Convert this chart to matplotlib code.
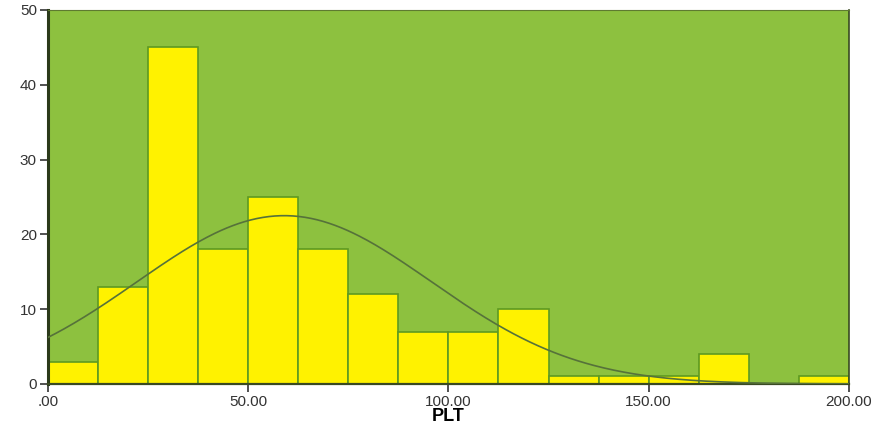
import numpy as np
import matplotlib
matplotlib.use("Agg")
import matplotlib.pyplot as plt

plt.rcParams['font.family'] = ['Liberation Sans', 'DejaVu Sans']

# Histogram of PLT: bin edges and counts
bin_edges = [0, 12.5, 25, 37.5, 50, 62.5, 75, 87.5, 100, 112.5, 125,
             137.5, 150, 162.5, 175, 187.5, 200]
counts = [3, 13, 45, 18, 25, 18, 12, 7, 7, 10, 1, 1, 1, 4, 0, 1]
x_ticks = [0, 50, 100, 150, 200]
x_tick_labels = [".00", "50.00", "100.00", "150.00", "200.00"]
y_ticks = [0, 10, 20, 30, 40, 50]

# Fitted normal curve parameters
mean_plt = 59.0
sd_plt = 36.8

fig = plt.figure(figsize=(8.81, 4.29), dpi=100)
ax = fig.add_axes([0.0545, 0.105, 0.909, 0.872])
ax.set_facecolor("#8dc13f")

edges = np.array(bin_edges)
widths = np.diff(edges)
ax.bar(edges[:-1], counts, width=widths, align="edge",
       color="#fff200", edgecolor="#5e9a22", linewidth=1.2, zorder=2)

n_total = sum(counts)
bw = widths[0]
xs = np.linspace(0, 200, 400)
ys = n_total * bw / (sd_plt * np.sqrt(2 * np.pi)) * np.exp(-0.5 * ((xs - mean_plt) / sd_plt) ** 2)
ax.plot(xs, ys, color="#56723a", linewidth=1.2, zorder=3)

ax.set_xlim(0, 200)
ax.set_ylim(0, 50)
ax.set_xticks(x_ticks)
ax.set_xticklabels(x_tick_labels)
ax.set_yticks(y_ticks)
ax.tick_params(axis="both", direction="out", length=6, width=1.2,
               colors="#333333", labelsize=11, pad=2)

ax.spines["left"].set_linewidth(2.2)
ax.spines["left"].set_color("#2b3a1a")
ax.spines["bottom"].set_linewidth(1.6)
ax.spines["bottom"].set_color("#3a4a22")
ax.spines["right"].set_color("#3a4a22")
ax.spines["right"].set_linewidth(1.2)
ax.spines["top"].set_color("#5e7a30")

ax.set_xlabel("PLT", fontsize=13, fontweight="bold", labelpad=-1)

fig.savefig("out.png", dpi=100)
